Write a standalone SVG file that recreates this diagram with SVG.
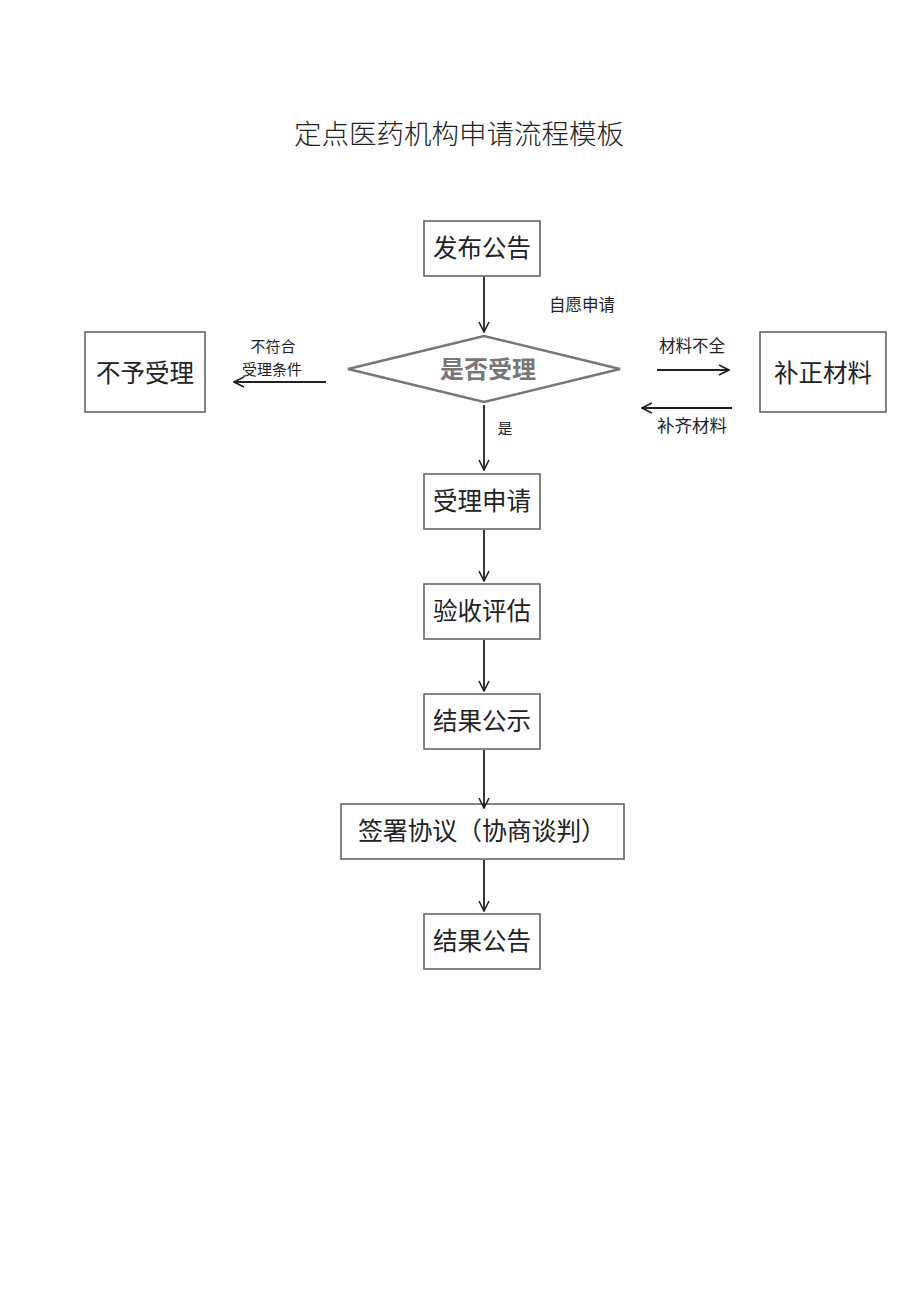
<svg xmlns="http://www.w3.org/2000/svg" width="920" height="1301" viewBox="0 0 920 1301">
<defs>
<marker id="ah" viewBox="0 0 12 12" refX="11" refY="6" markerWidth="12" markerHeight="12" markerUnits="userSpaceOnUse" orient="auto">
<path d="M1,1 L11,6 L1,11" fill="none" stroke="#222" stroke-width="1.6"/>
</marker>
<style>
.box{fill:#fff;stroke:#666;stroke-width:1.6}
.t{font-family:"Noto Sans CJK SC","Liberation Serif",sans-serif;fill:#222;text-anchor:middle}
.big{font-size:24.5px}
.sm{font-size:15px}
.md{font-size:16.5px}
.ln{stroke:#222;stroke-width:1.8;fill:none;marker-end:url(#ah)}
</style>
</defs>
<rect width="920" height="1301" fill="#fff"/>
<text class="t" x="459" y="144" font-size="27.5" font-weight="300">定点医药机构申请流程模板</text>
<g id="n1"><rect class="box" x="424" y="221" width="116" height="55"/><text class="t big" x="482" y="257">发布公告</text></g>
<g id="n2"><polygon points="348,369 484,336 620,369 484,402" fill="#fff" stroke="#777" stroke-width="2.4"/><text class="t" x="488" y="378" font-size="24" font-weight="bold" style="fill:#777">是否受理</text></g>
<g id="n3"><rect class="box" x="85" y="332" width="120" height="80"/><text class="t big" x="145" y="382">不予受理</text></g>
<g id="n4"><rect class="box" x="760" y="332" width="126" height="80"/><text class="t big" x="823" y="382">补正材料</text></g>
<g id="n5"><rect class="box" x="424" y="474" width="116" height="55"/><text class="t big" x="482" y="510">受理申请</text></g>
<g id="n6"><rect class="box" x="424" y="584" width="116" height="55"/><text class="t big" x="482" y="620">验收评估</text></g>
<g id="n7"><rect class="box" x="424" y="694" width="116" height="55"/><text class="t big" x="482" y="730">结果公示</text></g>
<g id="n8"><rect class="box" x="341" y="804" width="283" height="55"/><text class="t" x="482" y="840" font-size="25" textLength="248" lengthAdjust="spacing">签署协议（协商谈判）</text></g>
<g id="n9"><rect class="box" x="424" y="914" width="116" height="55"/><text class="t big" x="482" y="950">结果公告</text></g>
<g id="edges">
<line class="ln" x1="484" y1="277" x2="484" y2="332"/>
<line class="ln" x1="484" y1="405" x2="484" y2="470"/>
<line class="ln" x1="484" y1="530" x2="484" y2="581"/>
<line class="ln" x1="484" y1="640" x2="484" y2="691"/>
<line class="ln" x1="484" y1="750" x2="484" y2="808"/>
<line class="ln" x1="484" y1="860" x2="484" y2="911"/>
<line class="ln" x1="326" y1="382" x2="234" y2="382"/>
<line class="ln" x1="657" y1="370" x2="729" y2="370"/>
<line class="ln" x1="732" y1="408" x2="642" y2="408"/>
<text class="t md" x="582" y="311">自愿申请</text>
<text class="t sm" x="273" y="352">不符合</text>
<text class="t sm" x="272" y="375">受理条件</text>
<text class="t sm" x="505" y="434">是</text>
<text class="t md" x="692" y="352">材料不全</text>
<text class="t" x="692" y="432" font-size="17.5">补齐材料</text>
</g>
</svg>
